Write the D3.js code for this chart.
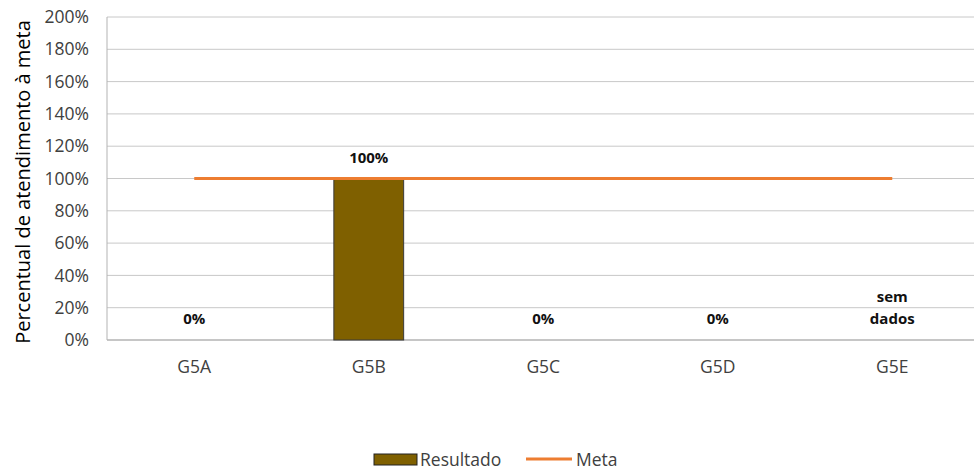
<!DOCTYPE html>
<html><head><meta charset="utf-8">
<script src="https://cdn.jsdelivr.net/npm/d3@7"></script>
<style>
body{margin:0;background:#fff;}
text{font-family:"Open Sans","Noto Sans",sans-serif;fill:#404040;}
</style></head>
<body><svg id="c" width="974" height="472"></svg>
<script>
const categories = ["G5A","G5B","G5C","G5D","G5E"];
const resultado = [0, 100, 0, 0, null];
const meta = [100, 100, 100, 100, 100];
const dataLabels = ["0%","100%","0%","0%","sem dados"];
const yTicks = [0,20,40,60,80,100,120,140,160,180,200];

(function(){
const svg = d3.select("#c");
const mLeft = 107, mTop = 17, mBottom = 340, bandW = 174.5;
const x = d3.scaleBand().domain(categories).range([mLeft, mLeft + bandW*categories.length]).paddingInner(0.6).paddingOuter(0.3);
const xc = d => x(d) + x.bandwidth()/2;
const y = d3.scaleLinear().domain([0,200]).range([mBottom, mTop]);

svg.append("g").selectAll("line").data(yTicks).join("line")
  .attr("x1", mLeft).attr("x2", mLeft + bandW*5)
  .attr("y1", d => y(d)).attr("y2", d => y(d))
  .attr("stroke", d => d === 0 ? "#b3b3b3" : "#c8c8c8").attr("stroke-width", d => d===0?1.5:1);
svg.append("line").attr("x1", mLeft).attr("x2", mLeft).attr("y1", mTop).attr("y2", mBottom).attr("stroke","#b3b3b3");

const yAxis = d3.axisLeft(y).tickValues(yTicks).tickFormat(d => d + "%").tickSize(0).tickPadding(18);
const ga = svg.append("g").attr("transform", `translate(${mLeft},0)`).call(yAxis);
ga.attr("font-family", null).attr("font-size", null);
ga.select(".domain").remove();
ga.selectAll("text").style("font-size","17.5px").attr("fill","#404040");

const xAxis = d3.axisBottom(x).tickSize(0).tickPadding(21);
const gx = svg.append("g").attr("transform", `translate(0,${mBottom})`).call(xAxis);
gx.attr("font-family", null).attr("font-size", null);
gx.select(".domain").remove();
gx.selectAll("text").style("font-size","17.5px").attr("fill","#404040");

svg.append("g").selectAll("rect").data(categories.map((c,i)=>({c, v: resultado[i]})).filter(d => d.v !== null && d.v > 0))
  .join("rect")
  .attr("x", d => x(d.c)).attr("width", x.bandwidth())
  .attr("y", d => y(d.v)).attr("height", d => y(0) - y(d.v))
  .attr("fill", "#7F6000").attr("stroke", "#3a3a3a").attr("stroke-width", 1);

const line = d3.line().x((d,i) => xc(categories[i])).y(d => y(d));
svg.append("path").datum(meta).attr("d", line).attr("fill","none").attr("stroke","#ED7D31").attr("stroke-width",3);

categories.forEach((c,i) => {
  const v = resultado[i] === null ? 0 : resultado[i];
  const t = svg.append("text").attr("x", xc(c)).attr("text-anchor","middle")
    .style("font-size","15px").style("font-weight","bold").style("fill","#111");
  const parts = dataLabels[i].split(" ");
  parts.forEach((p,k) => {
    t.append("tspan").attr("x", xc(c)).attr("y", y(v) - 16 - (parts.length-1-k)*22).text(p);
  });
});

svg.append("text").attr("transform", "translate(30,182) rotate(-90)").attr("text-anchor","middle")
  .style("font-size","20px").style("fill","#000").text("Percentual de atendimento à meta");

const lg = svg.append("g");
lg.append("rect").attr("x", 374).attr("y", 454).attr("width", 43).attr("height", 11).attr("fill","#7F6000").attr("stroke","#222");
lg.append("text").attr("x", 420).attr("y", 466).style("font-size","17.5px").style("fill","#404040").text("Resultado");
lg.append("line").attr("x1", 526).attr("x2", 572).attr("y1", 459).attr("y2", 459).attr("stroke","#ED7D31").attr("stroke-width",3);
lg.append("text").attr("x", 576).attr("y", 466).style("font-size","17.5px").style("fill","#404040").text("Meta");
})();
</script></body></html>
